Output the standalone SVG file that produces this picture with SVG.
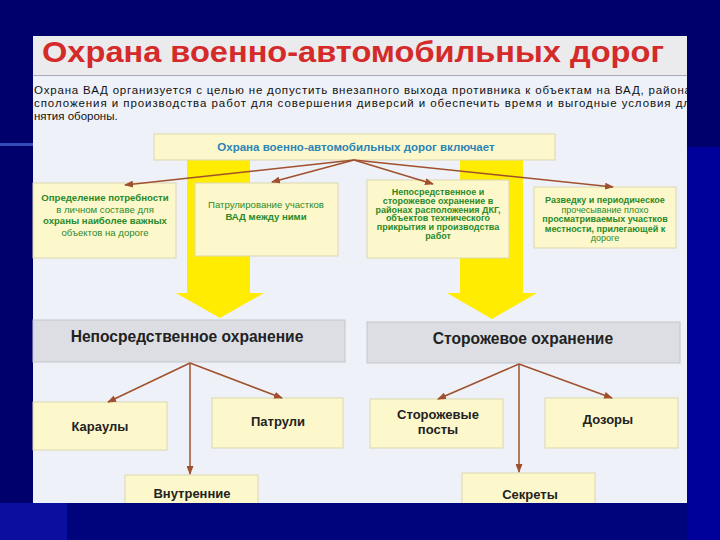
<svg xmlns="http://www.w3.org/2000/svg" width="720" height="540" viewBox="0 0 720 540">
<defs>
<style>
.box{fill:#fdf8cb;stroke:#dcd7b0;stroke-width:1}
.gbox{fill:#dcdee4;stroke:#c4c6cc;stroke-width:1}
.g{font-family:"Liberation Sans",Arial,sans-serif;font-size:9.6px;fill:#2a8a2a;text-anchor:middle}
.gc{font-family:"Liberation Sans",Arial,sans-serif;font-size:9px;fill:#2a8a2a;text-anchor:middle}
.b{font-weight:bold}
.h2{font-family:"Liberation Sans",Arial,sans-serif;font-size:15.6px;font-weight:bold;fill:#222;text-anchor:middle}
.h3{font-family:"Liberation Sans",Arial,sans-serif;font-size:13px;font-weight:bold;fill:#222;text-anchor:middle}
.para{font-family:"Liberation Sans",Arial,sans-serif;font-size:11.5px;fill:#111}
.con{stroke:#a0502c;stroke-width:1.5;fill:none;marker-end:url(#ah)}
.yarr{fill:#ffec00}
</style>
<marker id="ah" markerUnits="userSpaceOnUse" markerWidth="9" markerHeight="7" refX="8" refY="3.5" orient="auto">
<path d="M0,0 L9,3.5 L0,7 z" fill="#a0502c"/>
</marker>
<clipPath id="pclip"><rect x="33" y="36" width="654" height="467"/></clipPath>
</defs>

<g id="background">
<rect x="0" y="0" width="720" height="540" fill="#00006c"/>
<rect x="687" y="147" width="33" height="393" fill="#00009a"/>
<rect x="0" y="143" width="33" height="3" fill="#4a6ad8" opacity="0.7"/>
</g>

<g id="panel">
<rect x="33" y="36" width="654" height="467" fill="#eef1f8"/>
<rect x="33" y="36" width="654" height="39" fill="#ebebed"/>
<line x1="33" y1="75.5" x2="687" y2="75.5" stroke="#a8a8b8" stroke-width="1"/>
<text x="42" y="62" font-family="'Liberation Sans',Arial,sans-serif" font-size="30" font-weight="bold" fill="#d42a2a" textLength="622" lengthAdjust="spacingAndGlyphs">Охрана военно-автомобильных дорог</text>
<g clip-path="url(#pclip)">
<text class="para" x="34" y="94" textLength="657" lengthAdjust="spacing">Охрана ВАД организуется с целью не допустить внезапного выхода противника к объектам на ВАД, района</text>
<text class="para" x="34" y="107" textLength="656" lengthAdjust="spacing">сположения и производства работ для совершения диверсий и обеспечить время и выгодные условия дл</text>
<text class="para" x="34" y="120">нятия обороны.</text>
</g>
</g>

<g id="yellow-arrows">
<polygon class="yarr" points="187,160 250,160 250,293 264,293 220,318 176,293 187,293"/>
<polygon class="yarr" points="460,160 523,160 523,293 537,293 492,319 447,293 460,293"/>
</g>

<g id="top">
<rect class="box" x="154" y="134" width="401" height="26"/>
<text x="356" y="151" font-family="'Liberation Sans',Arial,sans-serif" font-size="11.5" font-weight="bold" fill="#2a84b8" text-anchor="middle">Охрана военно-автомобильных дорог включает</text>
</g>

<g id="boxA">
<rect class="box" x="33" y="183" width="143" height="75"/>
<text class="g" x="105" y="201"><tspan class="b">Определение потребности</tspan><tspan x="105" dy="11.5">в личном составе для</tspan><tspan x="105" dy="11.5" class="b">охраны наиболее важных</tspan><tspan x="105" dy="11.5">объектов на дороге</tspan></text>
</g>

<g id="boxB">
<rect class="box" x="195" y="183" width="143" height="73"/>
<text class="g" x="266" y="208">Патрулирование участков<tspan x="266" dy="11.5" class="b">ВАД между ними</tspan></text>
</g>

<g id="boxC">
<rect class="box" x="367" y="180" width="142" height="78"/>
<text class="gc b" x="438" y="195">Непосредственное и<tspan x="438" dy="8.8">сторожевое охранение в</tspan><tspan x="438" dy="8.8">районах расположения ДКГ,</tspan><tspan x="438" dy="8.8">объектов технического</tspan><tspan x="438" dy="8.8">прикрытия и производства</tspan><tspan x="438" dy="8.8">работ</tspan></text>
</g>

<g id="boxD">
<rect class="box" x="534" y="187" width="142" height="61"/>
<text class="gc" x="605" y="203"><tspan class="b">Разведку и периодическое</tspan><tspan x="605" dy="9.5">прочесывание плохо</tspan><tspan x="605" dy="9.5" class="b">просматриваемых участков</tspan><tspan x="605" dy="9.5" class="b">местности, прилегающей к</tspan><tspan x="605" dy="9.5">дороге</tspan></text>
</g>

<g id="direct">
<rect class="gbox" x="33" y="320" width="312" height="42"/>
<text class="h2" x="187" y="342">Непосредственное охранение</text>
</g>

<g id="guard">
<rect class="gbox" x="367" y="322" width="313" height="41"/>
<text class="h2" x="523" y="344">Сторожевое охранение</text>
</g>

<g id="karauly">
<rect class="box" x="33" y="402" width="134" height="48"/>
<text class="h3" x="100" y="431">Караулы</text>
</g>

<g id="patruli">
<rect class="box" x="212" y="398" width="131" height="50"/>
<text class="h3" x="278" y="426">Патрули</text>
</g>

<g id="vnutrennie">
<rect class="box" x="125" y="475" width="133" height="40"/>
<text class="h3" x="192" y="498">Внутренние</text>
</g>

<g id="posty">
<rect class="box" x="370" y="399" width="133" height="49"/>
<text class="h3" x="438" y="419" font-size="12.5">Сторожевые<tspan x="438" dy="14.5">посты</tspan></text>
</g>

<g id="dozory">
<rect class="box" x="545" y="398" width="133" height="50"/>
<text class="h3" x="608" y="424">Дозоры</text>
</g>

<g id="sekrety">
<rect class="box" x="462" y="473" width="133" height="40"/>
<text class="h3" x="530" y="499">Секреты</text>
</g>

<g id="connectors">
<line class="con" x1="354" y1="160" x2="125" y2="185"/>
<line class="con" x1="354" y1="160" x2="272" y2="182"/>
<line class="con" x1="354" y1="160" x2="433" y2="184"/>
<line class="con" x1="354" y1="160" x2="613" y2="187"/>
<line class="con" x1="190" y1="363" x2="108" y2="402"/>
<line class="con" x1="190" y1="363" x2="282" y2="398"/>
<line class="con" x1="190" y1="363" x2="190" y2="474"/>
<line class="con" x1="519" y1="364" x2="438" y2="399"/>
<line class="con" x1="519" y1="364" x2="612" y2="398"/>
<line class="con" x1="519" y1="364" x2="519" y2="472"/>
</g>

<g id="bottom-band">
<rect x="0" y="503" width="67" height="37" fill="#0a0fa0"/>
<rect x="67" y="503" width="620" height="37" fill="#00047c"/>
</g>
</svg>
